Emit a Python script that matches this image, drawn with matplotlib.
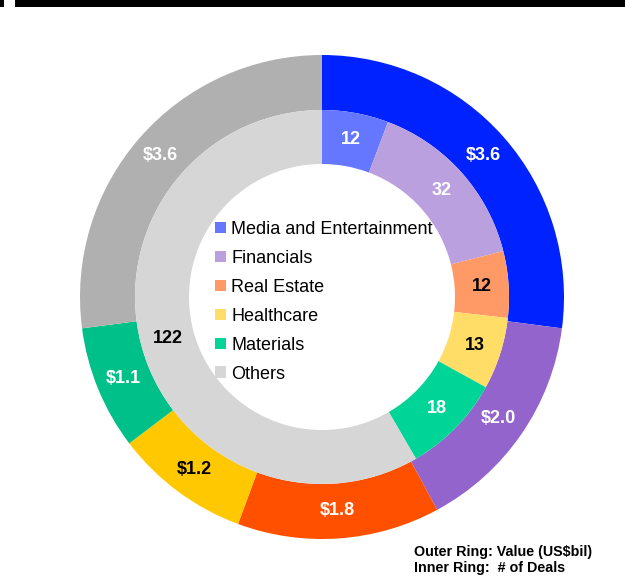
import matplotlib
matplotlib.use("Agg")
import matplotlib.pyplot as plt
from matplotlib.patches import Rectangle
import numpy as np

plt.rcParams["font.family"] = ["Liberation Sans", "DejaVu Sans"]

# data
sectors = ["Media and Entertainment", "Financials", "Real Estate", "Healthcare", "Materials", "Others"]
value_bil = [3.6, 2.0, 1.8, 1.2, 1.1, 3.6]
num_deals = [12, 32, 12, 13, 18, 122]

outer_colors = ["#0022ff", "#9264cc", "#ff5000", "#ffc800", "#00c08a", "#b0b0b0"]
inner_colors = ["#6677ff", "#bba0e0", "#ff9966", "#ffdd66", "#00d496", "#d6d6d6"]
outer_text = ["white", "white", "white", "black", "white", "white"]
inner_text = ["white", "white", "black", "black", "white", "black"]

W, H = 625, 583
fig = plt.figure(figsize=(W / 100, H / 100), dpi=100)

# black bar on top
fig.patches.append(Rectangle((0, 1 - 7 / H), 4 / W, 7 / H, transform=fig.transFigure,
                             facecolor="black", edgecolor="none"))
fig.patches.append(Rectangle((15 / W, 1 - 7 / H), 1 - 15 / W, 7 / H, transform=fig.transFigure,
                             facecolor="black", edgecolor="none"))

cx, cy, R = 322, 297, 242
ax = fig.add_axes([(cx - R) / W, (H - cy - R) / H, 2 * R / W, 2 * R / H])

r_mid = 187 / R
r_in = 133 / R

outer, _ = ax.pie(value_bil, radius=1, colors=outer_colors, startangle=90, counterclock=False,
                  wedgeprops=dict(width=1 - r_mid, edgecolor="none"))
inner, _ = ax.pie(num_deals, radius=r_mid, colors=inner_colors, startangle=90, counterclock=False,
                  wedgeprops=dict(width=r_mid - r_in, edgecolor="none"))


def put_labels(wedges, texts, colors, r):
    for w, t, c in zip(wedges, texts, colors):
        ang = np.deg2rad((w.theta1 + w.theta2) / 2)
        ax.text(r * np.cos(ang), r * np.sin(ang), t, ha="center", va="center",
                fontsize=13, fontweight="bold", color=c)


put_labels(outer, [f"${v:.1f}" for v in value_bil], outer_text, (1 + r_mid) / 2)
put_labels(inner, [str(n) for n in num_deals], inner_text, (r_mid + r_in) / 2)

ax.set_xlim(-1, 1)
ax.set_ylim(-1, 1)
ax.axis("off")

handles = [Rectangle((0, 0), 1, 1, facecolor=c, edgecolor="none") for c in inner_colors]
fig.legend(handles, sectors, loc="upper left", bbox_to_anchor=(215 / W, 1 - 221 / H),
           frameon=False, fontsize=13, handlelength=0.6, handleheight=0.6,
           handletextpad=0.3, labelspacing=0.66, borderpad=0, borderaxespad=0)

fig.text(414 / W, 1 - 552 / H, "Outer Ring: Value (US$bil)", fontsize=10.3, fontweight="bold",
         va="center", ha="left")
fig.text(414 / W, 1 - 568 / H, "Inner Ring:  # of Deals", fontsize=10.3, fontweight="bold",
         va="center", ha="left")

fig.savefig("out.png", dpi=100)
